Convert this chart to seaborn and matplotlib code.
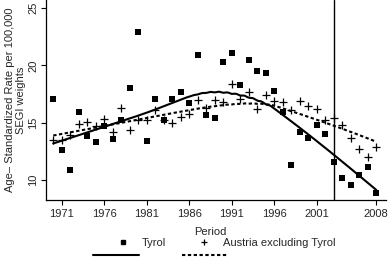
import numpy as np
import pandas as pd
import matplotlib
matplotlib.use("Agg")
import matplotlib.pyplot as plt
from matplotlib.lines import Line2D
import seaborn as sns

years = list(range(1970, 2009))
tyrol = [17.1, 12.6, 10.9, 15.9, 13.8, 13.3, 14.7, 13.6, 15.2, 18.0,
         22.9, 13.4, 17.1, 15.2, 17.1, 17.7, 16.7, 20.9, 15.7, 15.4,
         20.3, 21.1, 18.3, 20.5, 19.5, 19.3, 17.8, 15.9, 11.3, 14.2,
         13.7, 14.8, 14.0, 11.6, 10.2, 9.6, 10.4, 11.1, 8.9]
austria = [13.5, 13.5, 13.9, 14.9, 15.1, 14.7, 15.3, 14.2, 16.3, 14.4,
           15.2, 15.2, 16.1, 15.2, 15.0, 15.5, 15.8, 17.0, 16.3, 17.0,
           16.8, 18.4, 17.1, 17.7, 16.2, 17.4, 16.9, 16.8, 16.1, 16.9,
           16.5, 16.2, 15.2, 15.4, 14.8, 13.7, 12.7, 12.0, 12.9]
xticks = [1971, 1976, 1981, 1986, 1991, 1996, 2001, 2008]
yticks = [10, 15, 20, 25]
cut_year = 2003
series_names = ["Tyrol", "Austria excluding Tyrol"]


def lowess(x, y, xs, f=2 / 3, iters=3):
    """Robust locally-linear smoother (like R's lowess defaults)."""
    x = np.asarray(x, float)
    y = np.asarray(y, float)
    n = len(x)
    q = int(np.floor(n * f))
    rw = np.ones(n)

    def fit_at(x0, rw):
        d = np.abs(x - x0)
        h = np.sort(d)[q - 1]
        w = np.clip(1 - (d / h) ** 3, 0, None) ** 3 * rw
        X = np.vander(x - x0, 2, increasing=True)
        W = np.sqrt(w)
        b, *_ = np.linalg.lstsq(X * W[:, None], y * W, rcond=None)
        return b[0]

    for _ in range(iters):
        fitted = np.array([fit_at(x0, rw) for x0 in x])
        r = y - fitted
        s = np.median(np.abs(r))
        u = np.clip(r / (6 * s), -1, 1)
        rw = (1 - u ** 2) ** 2
    return np.array([fit_at(x0, rw) for x0 in xs])


grid = np.linspace(min(years), max(years), 200)
df_t = pd.DataFrame({"year": years, "rate": tyrol})
df_a = pd.DataFrame({"year": years, "rate": austria})
fit_t = pd.DataFrame({"year": grid, "rate": lowess(years, tyrol, grid)})
fit_a = pd.DataFrame({"year": grid, "rate": lowess(years, austria, grid)})

sns.set_theme(style="white")
plt.rcParams["font.family"] = ["Liberation Sans", "DejaVu Sans"]

fig = plt.figure(figsize=(3.88, 2.62), dpi=100)
ax = fig.add_axes([46 / 388, 62 / 262, 340 / 388, 200 / 262])

dotted = (0, (1.6, 1.2))
sns.scatterplot(data=df_t, x="year", y="rate", marker="s", s=16, color="black",
                edgecolor="black", linewidth=0, ax=ax, legend=False)
sns.scatterplot(data=df_a, x="year", y="rate", marker="+", s=36, color="black",
                linewidth=0.9, ax=ax, legend=False)
sns.lineplot(data=fit_t, x="year", y="rate", color="black", lw=1.5, ax=ax,
             legend=False)
sns.lineplot(data=fit_a, x="year", y="rate", color="black", lw=1.5,
             linestyle=dotted, ax=ax, legend=False)
ax.axvline(cut_year, color="black", lw=1.0)

ax.set_xlim(1969.15, 2009.15)
ax.set_ylim(8.26, 25.7)
ax.set_xticks(xticks)
ax.set_xticklabels([str(t) for t in xticks], fontsize=8)
ax.set_yticks(yticks)
ax.set_yticklabels([str(t) for t in yticks], fontsize=8, rotation=90, va="center")
ax.tick_params(axis="both", direction="out", length=3.5, width=0.8, color="black",
               left=True, bottom=True, pad=2)
ax.tick_params(axis="x", pad=3)
for s in ["top", "right"]:
    ax.spines[s].set_visible(False)
for s in ["left", "bottom"]:
    ax.spines[s].set_color("black")
    ax.spines[s].set_linewidth(0.9)
ax.set_xlabel("Period", fontsize=8, labelpad=1)
ax.xaxis.set_label_coords((210 - 46) / 340, -0.135)
ax.set_ylabel("Age\u2013 Standardized Rate per 100,000\nSEGI weights", fontsize=8,
              labelpad=2, linespacing=1.05)

# legend row 1: point symbols
marker_handles = [
    Line2D([], [], marker="s", ls="none", color="black", ms=3.5),
    Line2D([], [], marker="+", ls="none", color="black", ms=5, mew=0.9),
]
leg1 = fig.legend(marker_handles, series_names, ncol=2, frameon=False, fontsize=8,
                  loc="center left", bbox_to_anchor=(117.5 / 388, 19 / 262),
                  handlelength=1.0, handletextpad=1.2, columnspacing=2.9,
                  borderpad=0, borderaxespad=0)
# legend row 2: fitted lines
line_handles = [
    Line2D([], [], color="black", lw=1.5),
    Line2D([], [], color="black", lw=1.5, linestyle=dotted),
]
leg2 = fig.legend(line_handles, ["", ""], ncol=2, frameon=False, fontsize=8,
                  loc="center left", bbox_to_anchor=(93 / 388, 6 / 262),
                  handlelength=4.1, handletextpad=0, columnspacing=3.9,
                  borderpad=0, borderaxespad=0)

fig.savefig("out.png", dpi=100)
